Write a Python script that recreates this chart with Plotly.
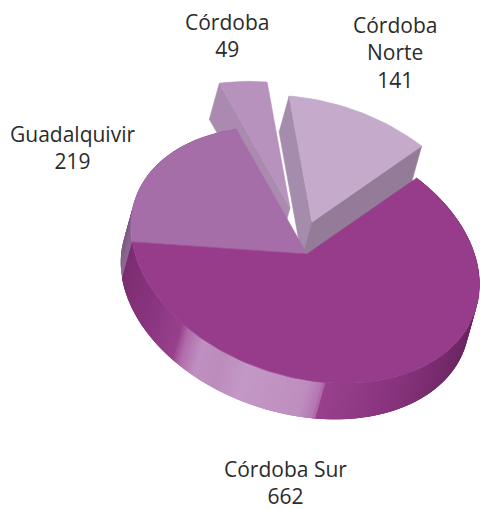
import math
import plotly.graph_objects as go

# ---- data ----
names = ["Córdoba Sur", "Guadalquivir", "Córdoba", "Córdoba Norte"]
values = [662, 219, 49, 141]
label_lines = [["Córdoba Sur"], ["Guadalquivir"], ["Córdoba"], ["Córdoba", "Norte"]]

# ---- styles / layout ----
top_colors = ["#963C8A", "#A66EA8", "#B692BC", "#C5AACC"]
pulls = [(0, 0), (0, 0), (-17, -46), (5, -32)]
label_pos = [(285, 482), (72, 147), (227, 35), (395, 52)]
APEX = (307, 254)
U = (111.5, -77.3)
V = (134.0, 102.0)
PX = 0.017
T = (-10, 36)
FONT = "Open Sans"

sur_wall_stops = [(0, "#5E1F56"), (60, "#66235C"), (85, "#742A6A"), (110, "#88347D"), (134, "#98408C"),
                  (135, "#B574B2"), (140, "#BE8EBE"), (160, "#C398C6"), (168, "#BC8CBC"), (176, "#BE90C0"),
                  (182, "#B06AAA"), (185, "#98408C"), (200, "#88347E"), (222.5, "#7A2D70")]
gua_wall_stops = [(222.5, "#8E6B92"), (235, "#7E5A84"), (296, "#7E5A84")]


def pt(theta, pull=(0, 0)):
    r = math.radians(theta)
    c, s = math.cos(r), math.sin(r)
    w = 1 + PX * c
    return (APEX[0] + pull[0] + (U[0] * c + V[0] * s) / w,
            APEX[1] + pull[1] + (U[1] * c + V[1] * s) / w)


def shade(stops, theta):
    for (a, ca), (b, cb) in zip(stops, stops[1:]):
        if a <= theta <= b:
            f = (theta - a) / (b - a) if b > a else 0
            rgb = [round(int(ca[i:i + 2], 16) * (1 - f) + int(cb[i:i + 2], 16) * f) for i in (1, 3, 5)]
            return "rgb(%d,%d,%d)" % tuple(rgb)
    return stops[-1][1]


fig = go.Figure()


def poly(points, color, width=0.6):
    xs = [p[0] for p in points] + [points[0][0]]
    ys = [p[1] for p in points] + [points[0][1]]
    fig.add_trace(go.Scatter(x=xs, y=ys, mode="lines", fill="toself", fillcolor=color,
                             line=dict(color=color, width=width), hoverinfo="skip", showlegend=False))


total = sum(values)
spans = []
start = 0.0
for v in values:
    spans.append((start, start + 360.0 * v / total))
    start = spans[-1][1]


def shift(p, d=T):
    return (p[0] + d[0], p[1] + d[1])


def arc(i, step=2.0):
    a, b = spans[i]
    n = max(2, int((b - a) / step))
    return [pt(a + (b - a) * k / n, pulls[i]) for k in range(n + 1)]


def tip(i):
    return (APEX[0] + pulls[i][0], APEX[1] + pulls[i][1])


def wall(i, stops, step=1.0):
    # each band runs on past its end, so later bands paint over it and no seam shows
    a, b = spans[i]
    n = int((b - a) / step)
    for k in range(n):
        t0 = a + (b - a) * k / n
        t1 = min(b, t0 + 3 * step)
        tmid = a + (b - a) * (k + 0.5) / n
        p0, pm, p1 = pt(t0, pulls[i]), pt((t0 + t1) / 2, pulls[i]), pt(t1, pulls[i])
        poly([p0, pm, p1, shift(p1), shift(pm), shift(p0)], shade(stops, tmid), width=0)


# Córdoba (back slice)
a0, a1 = spans[2]
poly([pt(a0, pulls[2]), tip(2), shift(tip(2)), shift(pt(a0, pulls[2]))], "#AB8AB0")
poly([tip(2)] + arc(2), top_colors[2])

# Córdoba Norte
n0, n1 = spans[3]
poly([pt(n0, pulls[3]), tip(3), shift(tip(3)), shift(pt(n0, pulls[3]))], "#A58CAC")
poly([pt(n1, pulls[3]), tip(3), shift(tip(3)), shift(pt(n1, pulls[3]))], "#947C98")
poly([tip(3)] + arc(3), top_colors[3])

# Guadalquivir
wall(1, gua_wall_stops)
poly([tip(1)] + arc(1), top_colors[1])

# Córdoba Sur
wall(0, sur_wall_stops)
poly([tip(0)] + arc(0), top_colors[0])

for i, lines in enumerate(label_lines):
    x, y = label_pos[i]
    fig.add_annotation(x=x, y=y, text="<br>".join(lines + [str(values[i])]), showarrow=False,
                       xanchor="center", yanchor="middle", align="center",
                       font=dict(family=FONT, size=21, color="#2B2B2B"))

fig.update_xaxes(range=[0, 480], visible=False, fixedrange=True)
fig.update_yaxes(range=[509, 0], visible=False, fixedrange=True)
fig.update_layout(width=480, height=509, margin=dict(l=0, r=0, t=0, b=0),
                  paper_bgcolor="white", plot_bgcolor="white", showlegend=False)
fig.write_html("out.html", config=dict(displayModeBar=False),
               post_script="document.body.style.margin='0';")
